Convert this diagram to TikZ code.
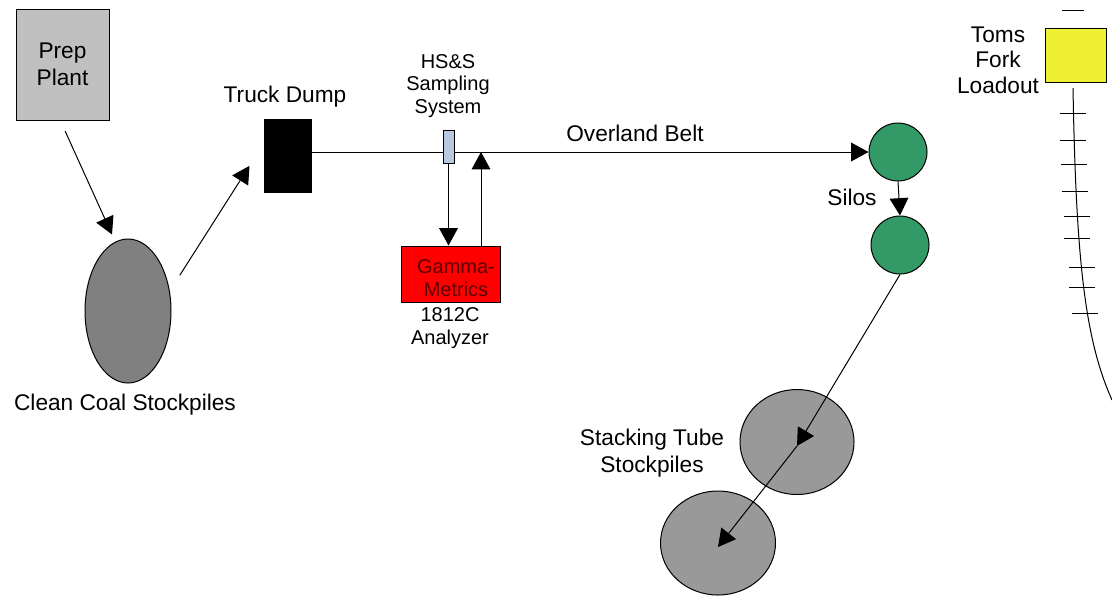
\documentclass[tikz,border=0pt]{standalone}
\usepackage{fontspec}
\setmainfont{Liberation Sans}
\usetikzlibrary{positioning,arrows.meta,shapes.geometric}
\definecolor{prepgray}{RGB}{192,192,192}
\definecolor{coalgray}{RGB}{128,128,128}
\definecolor{tubegray}{RGB}{153,153,153}
\definecolor{silogreen}{RGB}{51,153,102}
\definecolor{sampblue}{RGB}{184,200,224}
\definecolor{loadyellow}{RGB}{240,240,50}
\definecolor{darkred}{RGB}{90,0,0}
\tikzset{
  flow/.style={line width=0.75pt,-{Triangle[length=13pt,width=14pt]}},
  belt/.style={line width=0.75pt},
  box/.style={draw,line width=0.75pt,inner sep=0pt},
  pile/.style={ellipse,draw,line width=0.75pt,inner sep=0pt},
  silo/.style={circle,draw,line width=0.75pt,fill=silogreen,minimum size=43.5pt,inner sep=0pt},
  lbl/.style={font=\fontsize{17}{20}\selectfont,align=center,inner sep=0pt},
  slbl/.style={font=\fontsize{15}{17}\selectfont,align=center,inner sep=0pt}
}
\begin{document}
\begin{tikzpicture}[x=0.75pt,y=-0.75pt]
  \useasboundingbox[fill=white] (0,0) rectangle (1112,597);
  % plant, stockpile, dump
  \node[box,fill=prepgray,minimum width=69.75pt,minimum height=83.25pt,lbl] (prep) at (62.5,64.5) {Prep\\Plant};
  \node[pile,fill=coalgray,minimum width=64.5pt,minimum height=108pt] (clean) at (128,311) {};
  \node[lbl] (cleanlbl) at (125,405) {Clean Coal Stockpiles};
  \node[box,fill=black,minimum width=35.25pt,minimum height=54.75pt] (dump) at (287.5,155.5) {};
  \node[lbl] (dumplbl) at (285,97) {Truck Dump};
  \draw[flow] ([xshift=2pt,yshift=-8pt]prep.south) -- ([xshift=-12pt,yshift=3pt]clean.north);
  \draw[flow] ([xshift=8pt,yshift=9pt]clean.30) -- ([xshift=-10.5pt,yshift=20pt]dump.south west);
  % belt and analyzer
  \node[silo] (silo1) at (898,152) {};
  \node[silo] (silo2) at (900,245) {};
  \draw[flow] (dump.east |- silo1.west) -- (silo1.west);
  \node[box,fill=sampblue,minimum width=8.25pt,minimum height=24.75pt] (samp) at (448.5,146.5) {};
  \node[slbl] (samplbl) at (448,86) {HS\&S\\Sampling\\System};
  \node[box,fill=red,minimum width=74.25pt,minimum height=42pt] (ana) at (450.5,274) {};
  \node[slbl,text=darkred] (anatxt) at (456,278) {Gamma-\\Metrics};
  \node[slbl] (analbl) at (450,328) {1812C\\Analyzer};
  \node[lbl] (beltlbl) at (635,133) {Overland Belt};
  \coordinate (ret) at (481,152);
  \draw[flow] (samp.south) -- (samp.south |- ana.north);
  \draw[flow] (ret |- ana.north) -- (ret);
  % silos and stacking tubes
  \node[lbl] (silolbl) at (852,197) {Silos};
  \draw[flow] (silo1.south) -- (silo2.north);
  \node[pile,fill=tubegray,minimum width=85.5pt,minimum height=78.75pt] (tube1) at (797,442) {};
  \node[pile,fill=tubegray,minimum width=86.25pt,minimum height=78pt] (tube2) at (718,543) {};
  \node[lbl] (tubelbl) at (652,453) {Stacking Tube\\Stockpiles};
  \draw[flow] (silo2.south) -- ([yshift=-3pt]tube1.center);
  \draw[flow] ([yshift=-3pt]tube1.center) -- ([yshift=-3pt]tube2.center);
  % loadout and rail
  \node[box,fill=loadyellow,minimum width=45.75pt,minimum height=40.5pt] (load) at (1075.5,55) {};
  \node[lbl,font=\fontsize{17}{19}\selectfont] (loadlbl) at (998,60) {Toms\\Fork\\Loadout};
  \draw[belt] (1062,10) -- (1084,10);
  \draw[belt] (1073,88) .. controls (1076,260) and (1085,340) .. (1112,400);
  \foreach \x/\y in {1073/113,1073/140,1074/164,1075/191,1077/216,1077/238,1082/267,1082/287,1085/313}
    \draw[belt] ({\x-13},\y) -- ({\x+13},\y);
\end{tikzpicture}
\end{document}
